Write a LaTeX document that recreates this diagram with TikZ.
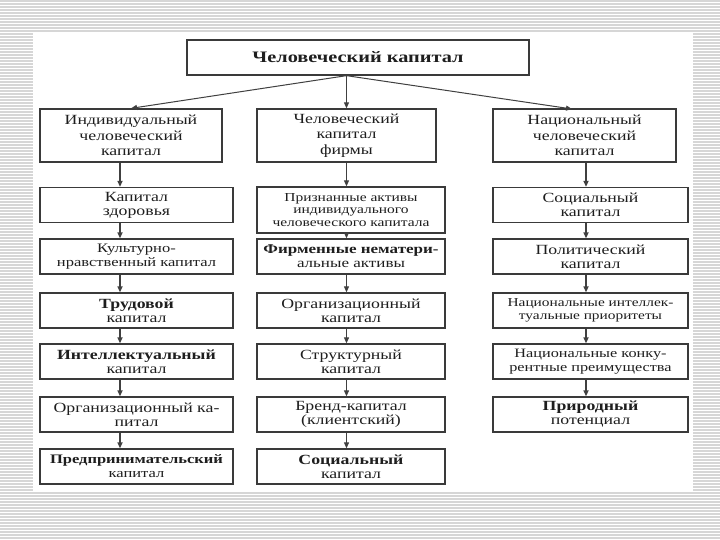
\documentclass[tikz,border=0pt]{standalone}
\usepackage{fontspec}
\setmainfont{Liberation Serif}[FakeStretch=1.27]
\usetikzlibrary{arrows.meta}
\definecolor{boxc}{HTML}{3A3A3A}
\definecolor{txtc}{HTML}{1E1E1E}
\definecolor{stripe}{HTML}{D6D6D6}
\definecolor{arrc}{HTML}{404040}
\begin{document}
\begin{tikzpicture}[x=1pt,y=-1pt,
  box/.style={draw=boxc, line width=1.3pt, fill=white, align=center, inner sep=0pt, text=txtc},
  hdr/.style={box, minimum height=53pt, font=\fontsize{14}{15.5}\selectfont},
  sub/.style={box, minimum height=35pt, font=\fontsize{14}{14}\selectfont},
  small/.style={font=\fontsize{12.2}{12.5}\selectfont},
  lw/.style={minimum width=193pt},
  mw/.style={minimum width=188pt},
  rw/.style={minimum width=195pt},
  arr/.style={draw=arrc, -{Triangle[length=6pt,width=5pt]}},
  arrthick/.style={arr, line width=2pt},
  arrthin/.style={arr, line width=1pt},
  arrmid/.style={arr, line width=1.6pt}
]
% background
\useasboundingbox (0,0) rectangle (720,540);
\fill[white] (0,0) rectangle (720,540);
\foreach \i in {0,...,179} {
  \draw[stripe, line width=1.1pt] (0,{1+\i*3}) -- (720,{1+\i*3});
}
\fill[white] (33,32) rectangle (693,492);

% title
\node[box, minimum width=342pt, minimum height=35pt, font=\fontsize{16}{16}\selectfont\bfseries] (top) at (358,57.5) {Человеческий капитал};

% headers
\node[hdr, minimum width=182pt] (lh) at (131,135.5) {Индивидуальный\\человеческий\\капитал};
\node[hdr, minimum width=179pt] (mh) at (346.5,135.5) {Человеческий\\капитал\\фирмы};
\node[hdr, minimum width=183pt] (rh) at (584.5,135.5) {Национальный\\человеческий\\капитал};

% left column
\node[sub, lw] (l1) at (136.5,205) {Капитал\\здоровья};
\node[sub, lw, font=\fontsize{13}{14}\selectfont] (l2) at (136.5,256.5) {Культурно-\\нравственный капитал};
\node[sub, lw] (l3) at (136.5,310.5) {\bfseries Трудовой\\капитал};
\node[sub, lw] (l4) at (136.5,361.5) {\bfseries Интеллектуальный\\капитал};
\node[sub, lw] (l5) at (136.5,414.5) {Организационный ка-\\питал};
\node[sub, lw, font=\fontsize{13}{14}\selectfont] (l6) at (136.5,466.5) {\bfseries Предпринимательский\\капитал};

% middle column
\node[box, mw, minimum height=46pt, small] (m1) at (351,210) {Признанные активы\\индивидуального\\человеческого капитала};
\node[sub, mw, font=\fontsize{13.4}{14}\selectfont] (m2) at (351,256.5) {\bfseries Фирменные нематери-\\альные активы};
\node[sub, mw] (m3) at (351,310.5) {Организационный\\капитал};
\node[sub, mw] (m4) at (351,361.5) {Структурный\\капитал};
\node[sub, mw] (m5) at (351,414.5) {Бренд-капитал\\(клиентский)};
\node[sub, mw] (m6) at (351,466.5) {\bfseries Социальный\\капитал};

% right column
\node[sub, rw] (r1) at (590.5,205) {Социальный\\капитал};
\node[sub, rw] (r2) at (590.5,256.5) {Политический\\капитал};
\node[sub, rw, font=\fontsize{12.1}{13}\selectfont] (r3) at (590.5,310.5) {Национальные интеллек-\\туальные приоритеты};
\node[sub, rw, font=\fontsize{12.8}{14}\selectfont] (r4) at (590.5,361.5) {Национальные конку-\\рентные преимущества};
\node[sub, rw] (r5) at (590.5,414.5) {\bfseries Природный\\потенциал};

% column axes
\coordinate (lx) at (120,0);
\coordinate (mx) at (346.5,0);
\coordinate (rx) at (586,0);
\coordinate (rend) at (572,109);

% top arrows
\draw[arrthin] (top.south -| mh.north) -- (lh.north);
\draw[arrthin] (top.south -| mh.north) -- (mh.north);
\draw[arrthin] (top.south -| mh.north) -- (rend);

% left column arrows
\draw[arrthick] (lh.south -| lx) -- (l1.north -| lx);
\draw[arrthick] (l1.south -| lx) -- (l2.north -| lx);
\draw[arrthick] (l2.south -| lx) -- (l3.north -| lx);
\draw[arrthick] (l3.south -| lx) -- (l4.north -| lx);
\draw[arrthick] (l4.south -| lx) -- (l5.north -| lx);
\draw[arrthick] (l5.south -| lx) -- (l6.north -| lx);

% middle column arrows
\draw[arrthin] (mh.south -| mx) -- (m1.north -| mx);
\draw[arrthin] (m1.south -| mx) -- (m2.north -| mx);
\draw[arrthin] (m2.south -| mx) -- (m3.north -| mx);
\draw[arrthin] (m3.south -| mx) -- (m4.north -| mx);
\draw[arrthin] (m4.south -| mx) -- (m5.north -| mx);
\draw[arrthin] (m5.south -| mx) -- (m6.north -| mx);

% right column arrows
\draw[arrmid] (rh.south -| rx) -- (r1.north -| rx);
\draw[arrmid] (r1.south -| rx) -- (r2.north -| rx);
\draw[arrmid] (r2.south -| rx) -- (r3.north -| rx);
\draw[arrmid] (r3.south -| rx) -- (r4.north -| rx);
\draw[arrmid] (r4.south -| rx) -- (r5.north -| rx);
\end{tikzpicture}
\end{document}
